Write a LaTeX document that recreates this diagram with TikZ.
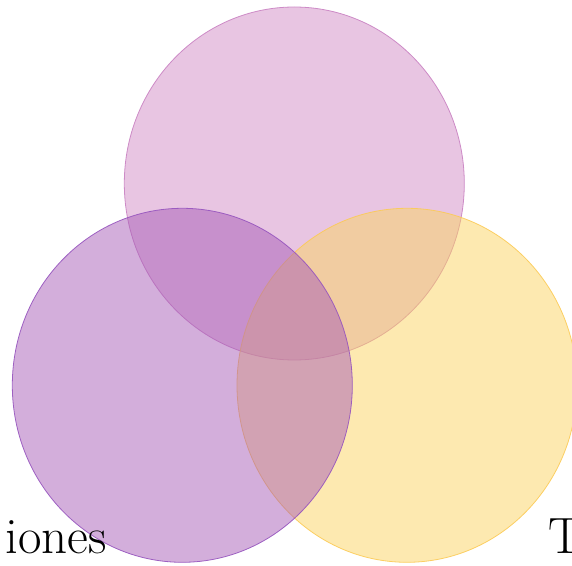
\documentclass[tikz,border=0pt]{standalone}
\usepackage{xcolor}
\usetikzlibrary{positioning}
\definecolor{myviolet}{RGB}{167,93,183}
\definecolor{mypink}{RGB}{209,139,197}
\definecolor{myyellow}{RGB}{251,211,97}

\begin{document}
\begin{tikzpicture}[x=1pt, y=1pt,
  set/.style={fill opacity=0.5, draw opacity=0.9, line width=0.8pt},
  setlabel/.style={font=\fontsize{51}{60}\selectfont, inner sep=0pt}]
\useasboundingbox (0,0) rectangle (572,565);

 %sets
 \draw[set, fill=mypink, draw=mypink!80!myviolet] (294.3,381.5) ellipse (170 and 176.5);
 \draw[set, fill=myyellow, draw=myyellow!90!orange] (407,179.7) ellipse (170 and 177);
 \draw[set, fill=myviolet, draw=myviolet!90!blue] (182.3,179.7) ellipse (170 and 177);

 %labels
 \node[setlabel, anchor=base east] (leftlabel) at (107,12) {iones};
 \node[setlabel, anchor=base west] (rightlabel) at (548,12) {T};
\end{tikzpicture}
\end{document}
